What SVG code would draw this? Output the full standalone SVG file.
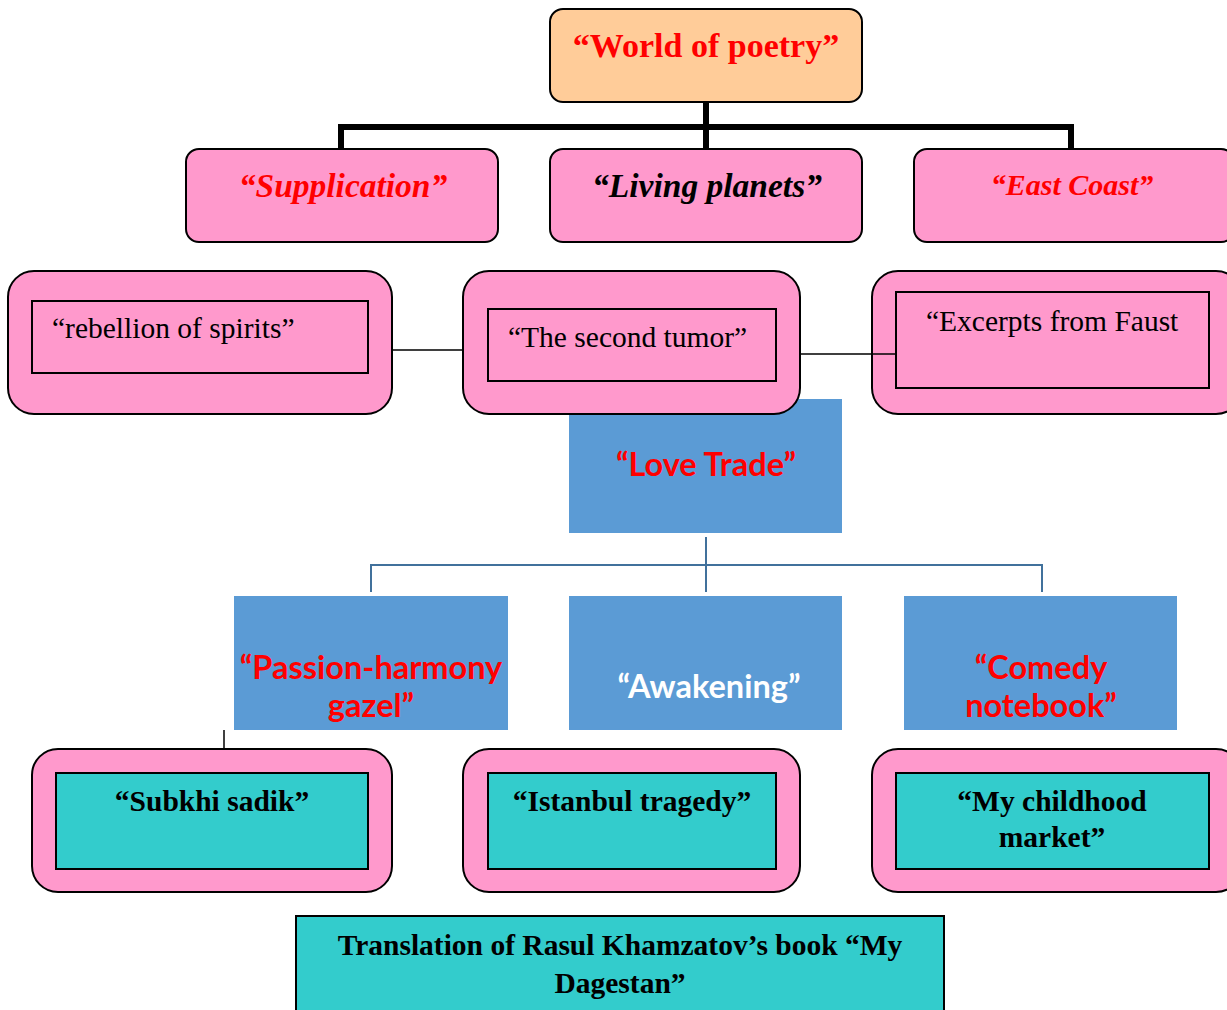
<svg xmlns="http://www.w3.org/2000/svg" width="1227" height="1010" viewBox="0 0 1227 1010">
<style>
.pink{fill:#FF99CC;stroke:#000;stroke-width:2}
.inner{fill:#FF99CC;stroke:#000;stroke-width:2}
.teal{fill:#33CCCC;stroke:#000;stroke-width:2}
.blue{fill:#5B9BD5}
.ser{font-family:"Liberation Serif","Times New Roman",serif}
.sans{font-family:Lato,"Liberation Sans",sans-serif;font-weight:bold;font-size:32.5px}
.red{fill:#FF0000}
.bi{font-weight:bold;font-style:italic;font-size:33.5px}
.reg{font-size:29.5px;fill:#000}
.bold{font-weight:bold;font-size:29.5px;fill:#000}
</style>
<rect width="1227" height="1010" fill="#fff"/>
<g id="world">
<rect x="550" y="9" width="312" height="93" rx="13" fill="#FFCC99" stroke="#000" stroke-width="2"/>
<text x="706" y="57" text-anchor="middle" class="ser red" font-weight="bold" font-size="34">“World of poetry”</text>
</g>
<g id="supplication">
<rect x="186" y="149" width="312" height="93" rx="13" class="pink"/>
<text x="343" y="197" text-anchor="middle" class="ser bi red">“Supplication”</text>
</g>
<g id="living">
<rect x="550" y="149" width="312" height="93" rx="13" class="pink"/>
<text x="707" y="197" text-anchor="middle" class="ser bi">“Living planets”</text>
</g>
<g id="eastcoast">
<rect x="914" y="149" width="320" height="93" rx="13" class="pink"/>
<text x="1072" y="195" text-anchor="middle" class="ser red" font-weight="bold" font-style="italic" font-size="30">“East Coast”</text>
</g>
<g id="lovetrade">
<rect x="569" y="399" width="273" height="134" class="blue"/>
<text x="706" y="476" text-anchor="middle" class="sans red">“Love Trade”</text>
</g>
<g id="rebellion">
<rect x="8" y="271" width="384" height="143" rx="26" class="pink"/>
<rect x="32" y="301" width="336" height="72" class="inner"/>
<text x="52" y="338" class="ser reg">“rebellion of spirits”</text>
</g>
<g id="tumor">
<rect x="463" y="271" width="337" height="143" rx="26" class="pink"/>
<rect x="488" y="309" width="288" height="72" class="inner"/>
<text x="508" y="347" class="ser reg">“The second tumor”</text>
</g>
<g id="faust">
<rect x="872" y="271" width="370" height="143" rx="26" class="pink"/>
<rect x="896" y="292" width="313" height="96" class="inner"/>
<text x="926" y="331" class="ser reg">“Excerpts from Faust</text>
</g>
<g id="passion">
<rect x="234" y="596" width="274" height="134" class="blue"/>
<text x="371" y="679" text-anchor="middle" class="sans red">“Passion-harmony</text>
<text x="371" y="717" text-anchor="middle" class="sans red">gazel”</text>
</g>
<g id="awakening">
<rect x="569" y="596" width="273" height="134" class="blue"/>
<text x="709" y="698" text-anchor="middle" class="sans" fill="#fff">“Awakening”</text>
</g>
<g id="comedy">
<rect x="904" y="596" width="273" height="134" class="blue"/>
<text x="1041" y="679" text-anchor="middle" class="sans red">“Comedy</text>
<text x="1041" y="717" text-anchor="middle" class="sans red">notebook”</text>
</g>
<g id="subkhi">
<rect x="32" y="749" width="360" height="143" rx="26" class="pink"/>
<rect x="56" y="773" width="312" height="96" class="teal"/>
<text x="212" y="811" text-anchor="middle" class="ser bold">“Subkhi sadik”</text>
</g>
<g id="istanbul">
<rect x="463" y="749" width="337" height="143" rx="26" class="pink"/>
<rect x="488" y="773" width="288" height="96" class="teal"/>
<text x="632" y="811" text-anchor="middle" class="ser bold">“Istanbul tragedy”</text>
</g>
<g id="childhood">
<rect x="872" y="749" width="370" height="143" rx="26" class="pink"/>
<rect x="896" y="773" width="313" height="96" class="teal"/>
<text x="1052" y="811" text-anchor="middle" class="ser bold">“My childhood</text>
<text x="1052" y="847" text-anchor="middle" class="ser bold">market”</text>
</g>
<g id="translation">
<rect x="296" y="916" width="648" height="100" class="teal"/>
<text x="620" y="955" text-anchor="middle" class="ser bold">Translation of Rasul Khamzatov’s book “My</text>
<text x="620" y="993" text-anchor="middle" class="ser bold">Dagestan”</text>
</g>
<g id="connectors">
<path d="M706 103V148M341 149V127H1071V149" fill="none" stroke="#000" stroke-width="6"/>
<path d="M393 350H462M801 354H896" stroke="#000" stroke-width="1.5"/>
<path d="M706 537V565M371 592V565H1042V592M706 565V592" fill="none" stroke="#41719C" stroke-width="2"/>
<path d="M224 730V748" stroke="#000" stroke-width="1.5"/>
</g>
</svg>
